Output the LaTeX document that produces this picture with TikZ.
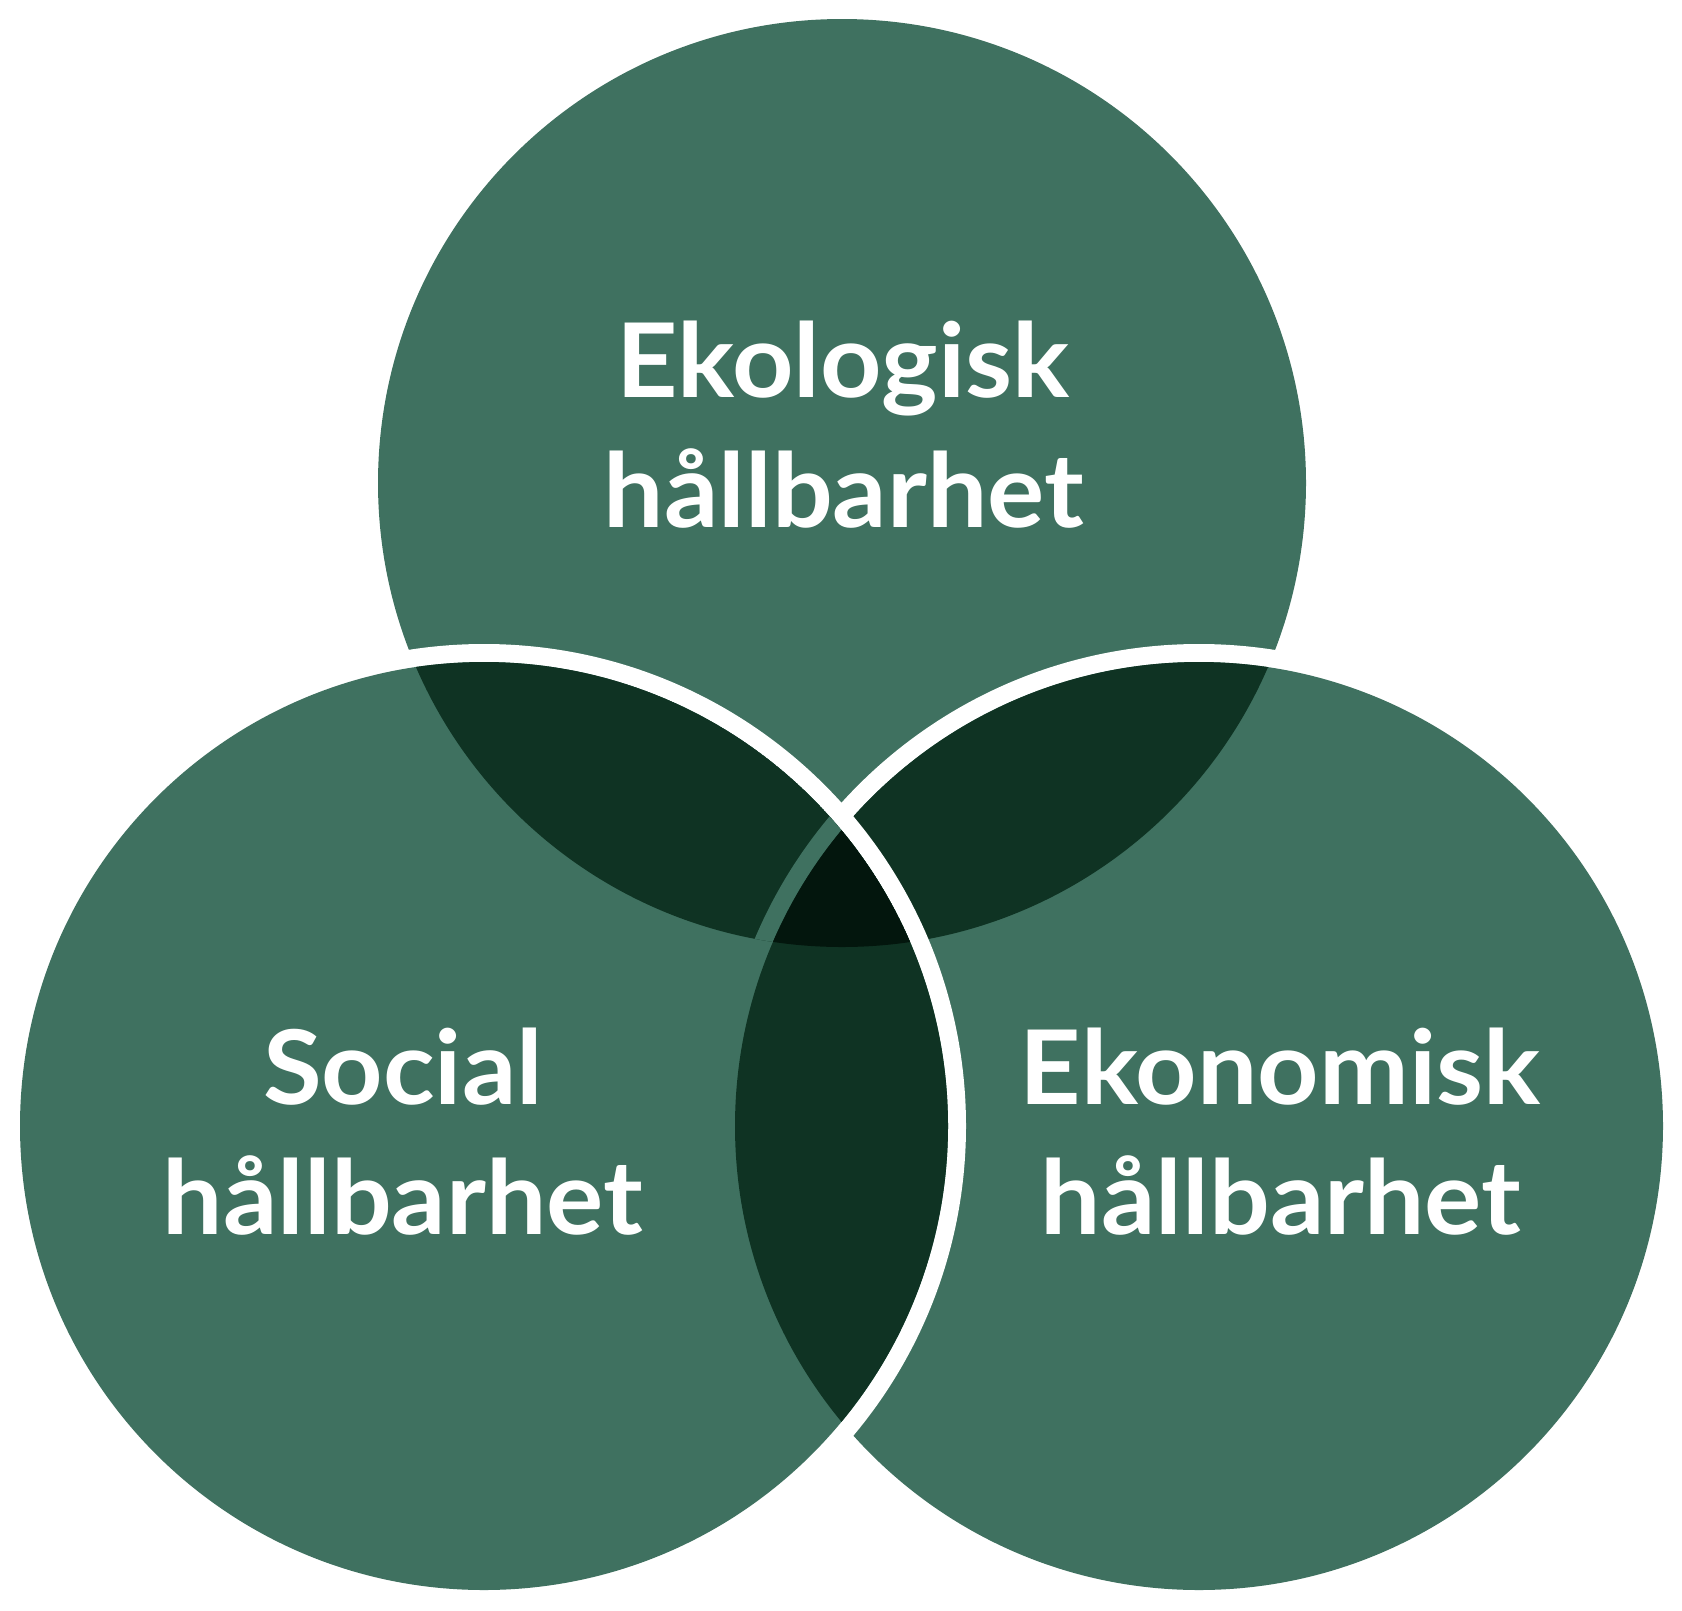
\documentclass[tikz,border=0pt]{standalone}
\usepackage{fontspec}
\setmainfont{Lato}[FakeStretch=1.04]
\usepackage{tikz}

\definecolor{venngreen}{RGB}{63,113,96}
\definecolor{venndark}{RGB}{15,51,35}
\definecolor{venndarkest}{RGB}{3,22,13}

\begin{document}
\begin{tikzpicture}[x=1pt,y=-1pt,
    label/.style={text=white,inner sep=0pt,anchor=base,font=\bfseries\fontsize{103}{130}\selectfont}]
    \useasboundingbox (0,0) rectangle (1682,1610);
    \coordinate (T) at (842,483);
    \coordinate (L) at (484,1126);
    \coordinate (R) at (1199,1126);
    \fill[venngreen] (T) circle (464pt);
    \fill[white] (R) circle (482pt);
    \fill[venngreen] (R) circle (464pt);
    \begin{scope}
        \clip (T) circle (464pt);
        \fill[venndark] (R) circle (464pt);
    \end{scope}
    \fill[white] (L) circle (482pt);
    \fill[venngreen] (L) circle (464pt);
    \begin{scope}
        \clip (T) circle (464pt);
        \clip (L) circle (464pt);
        \fill[venndark] (L) circle (464pt);
        \fill[venngreen] (R) circle (482pt);
    \end{scope}
    \begin{scope}
        \clip (L) circle (464pt);
        \fill[venndark] (R) circle (464pt);
        \clip (T) circle (464pt);
        \fill[venndarkest] (R) circle (464pt);
    \end{scope}
    \node[label] (ekologisk) at (843,397) {Ekologisk};
    \node[label] (hallbarT) at (844,527) {hållbarhet};
    \node[label] (social) at (403,1104) {Social};
    \node[label] (hallbarL) at (403,1234) {hållbarhet};
    \node[label] (ekonomisk) at (1280,1104) {Ekonomisk};
    \node[label] (hallbarR) at (1281,1234) {hållbarhet};
\end{tikzpicture}
\end{document}
